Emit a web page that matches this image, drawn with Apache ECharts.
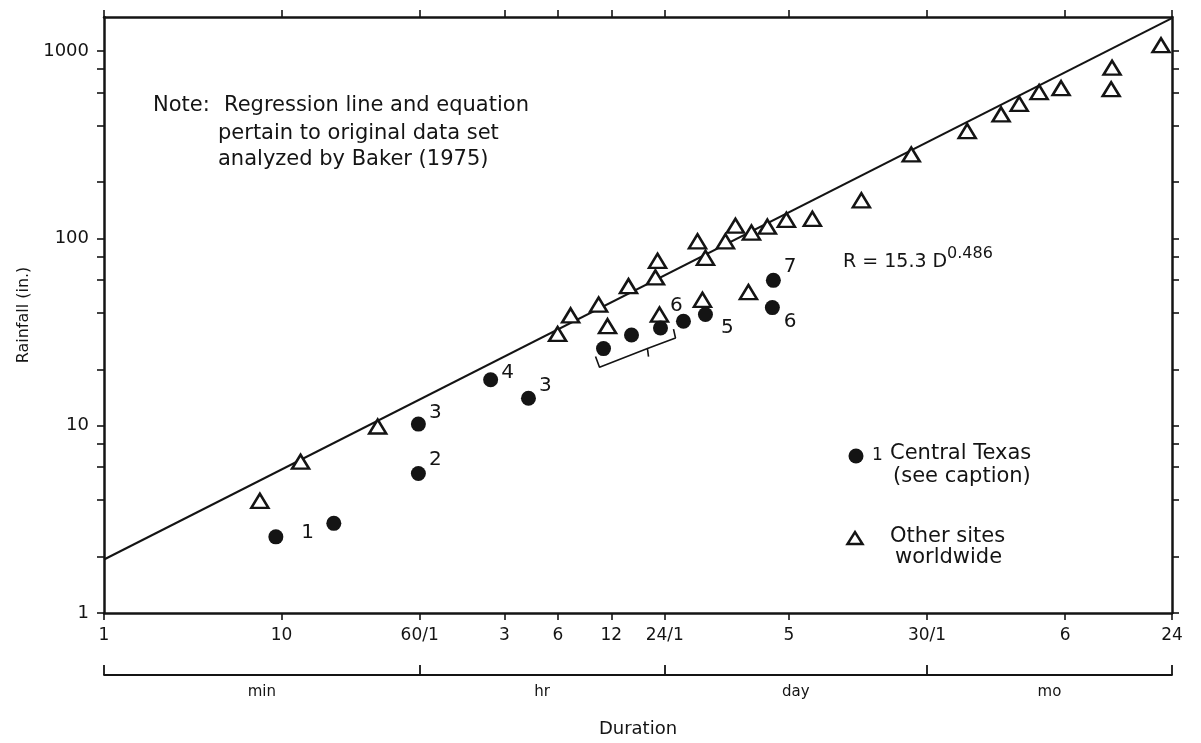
<!DOCTYPE html>
<html><head><meta charset="utf-8">
<script src="https://cdn.jsdelivr.net/npm/echarts@6/dist/echarts.min.js"></script>
<style>html,body{margin:0;padding:0;background:#fff}#c{width:1201px;height:743px}</style>
</head><body><div id="c"></div>
<script>
// ---------- data ----------
// Duration in minutes; rainfall in inches
const xTickValues = [1, 10, 60, 180, 360, 720, 1440, 7200, 43200, 259200, 1036800];
const xTickLabels = ['1', '10', '60/1', '3', '6', '12', '24/1', '5', '30/1', '6', '24'];
const yTickValues = [1, 2, 4, 6, 8, 10, 20, 40, 60, 80, 100, 200, 400, 600, 800, 1000];
const yLabelValues = [1, 10, 100, 1000];
const unitBounds = [1, 60, 1440, 43200, 1036800];
const unitNames = ['min', 'hr', 'day', 'mo'];

const otherDuration = [7.55, 12.8, 34.8, 359, 425, 611, 686, 900, 1277, 1312, 1345, 2203, 2443, 2349, 3164, 3603, 4434, 5453, 6978, 9772, 4265, 18450, 35240, 72800, 113000, 142900, 185000, 246000, 476500, 471000, 899000];
const otherRain = [3.97, 6.42, 9.9, 30.9, 38.8, 44.3, 34.0, 55.6, 61.9, 75.9, 39.2, 96.5, 78.7, 47.0, 96.5, 116.9, 107.4, 115.5, 125.6, 127.1, 51.7, 159.7, 280.5, 374, 459, 523, 604, 634, 815, 626, 1075];

const texasDuration = [9.29, 19.7, 59, 59, 150.6, 246, 651, 936, 1363, 1836, 2442, 5893, 5816];
const texasRain = [2.55, 3.01, 5.56, 10.2, 17.6, 14.0, 25.8, 30.5, 33.2, 36.1, 39.2, 59.7, 42.7];
const texasLabels = ['1', '', '2', '3', '4', '3', '', '', '6', '', '5', '7', '6'];

const regressionDuration = [1, 1036800];
const regressionRain = [1.93, 1500];

const bracketDuration = [587, 618, 1151, 1167, 1151, 1656, 1614];
const bracketRain = [23.4, 20.5, 25.8, 23.4, 25.8, 29.4, 32.8];
const bracketLabel = '5';

// ---------- styles ----------
const FONT = 'DejaVu Sans';
const INK = '#141414';
const labelOffsets = [[16, -4], [0, 0], [1, -14], [1, -11], [1, -7], [1, -13], [0, 0], [0, 0], [0, -22], [0, 0], [6, 13], [1, -14], [2, 14]];

function pickLabel(v, values, labels) {
  let best = 0, bd = Infinity;
  values.forEach((t, i) => { const d = Math.abs(Math.log10(t) - Math.log10(v)); if (d < bd) { bd = d; best = i; } });
  return bd < 0.02 ? labels[best] : '';
}
const unitMids = unitNames.map((_, i) => Math.sqrt(unitBounds[i] * unitBounds[i + 1]));

const xMin = xTickValues[0], xMax = xTickValues[xTickValues.length - 1];
const yMin = 1, yMax = 1520;

const axisLine = { show: true, lineStyle: { color: INK, width: 2.5 } };
function xAxisBase(extra) {
  return Object.assign({
    type: 'log', min: xMin, max: xMax, logBase: 10,
    axisLine: axisLine,
    axisTick: { show: true, customValues: xTickValues, length: 7, lineStyle: { color: INK, width: 1.6 } },
    axisLabel: { show: false },
    splitLine: { show: false }, minorTick: { show: false }, minorSplitLine: { show: false }
  }, extra);
}
function yAxisBase(extra) {
  return Object.assign({
    type: 'log', min: yMin, max: yMax, logBase: 10,
    axisLine: axisLine,
    axisTick: { show: true, customValues: yTickValues, length: 7, lineStyle: { color: INK, width: 1.6 } },
    axisLabel: { show: false },
    splitLine: { show: false }, minorTick: { show: false }, minorSplitLine: { show: false }
  }, extra);
}

const chart = echarts.init(document.getElementById('c'), null, { renderer: 'canvas' });
chart.setOption({
  backgroundColor: '#fff',
  animation: false,
  textStyle: { fontFamily: FONT, color: INK },
  grid: { left: 104, right: 29, top: 17, bottom: 116, containLabel: false },
  xAxis: [
    xAxisBase({
      position: 'bottom',
      axisLabel: { show: true, customValues: xTickValues, fontSize: 17, color: INK, fontFamily: FONT, margin: 14,
        formatter: v => pickLabel(v, xTickValues, xTickLabels) }
    }),
    xAxisBase({ position: 'top' }),
    xAxisBase({
      position: 'bottom', offset: 62,
      axisLine: { show: true, lineStyle: { color: INK, width: 1.8 } },
      axisTick: { show: true, inside: true, customValues: unitBounds, length: 10, lineStyle: { color: INK, width: 1.8 } },
      axisLabel: { show: true, customValues: unitMids, fontSize: 15, color: INK, fontFamily: FONT, margin: 10,
        formatter: v => pickLabel(v, unitMids, unitNames) },
      name: 'Duration', nameLocation: 'middle', nameGap: 45,
      nameTextStyle: { fontSize: 18, color: INK, fontFamily: FONT }
    })
  ],
  yAxis: [
    yAxisBase({
      position: 'left',
      axisLabel: { show: true, customValues: yLabelValues, fontSize: 18, color: INK, fontFamily: FONT, margin: 15,
        formatter: v => pickLabel(v, yLabelValues, yLabelValues.map(String)) },
      name: 'Rainfall (in.)', nameLocation: 'middle', nameGap: 62, nameRotate: 90,
      nameTextStyle: { fontSize: 16, color: INK, fontFamily: FONT }
    }),
    yAxisBase({ position: 'right' })
  ],
  series: [
    {
      name: 'Regression', type: 'line', xAxisIndex: 0, yAxisIndex: 0,
      data: regressionDuration.map((d, i) => [d, regressionRain[i]]),
      symbol: 'none', lineStyle: { color: INK, width: 2 }, z: 2, silent: true
    },
    {
      name: 'Other sites worldwide', type: 'scatter',
      data: otherDuration.map((d, i) => [d, otherRain[i]]),
      symbol: 'triangle', symbolSize: [17, 14],
      itemStyle: { color: '#fff', borderColor: INK, borderWidth: 2.5, opacity: 1 }, z: 4
    },
    {
      name: 'Central Texas', type: 'scatter',
      data: texasDuration.map((d, i) => ({
        value: [d, texasRain[i]],
        label: { show: texasLabels[i] !== '', formatter: texasLabels[i], position: 'right',
          distance: 2, offset: labelOffsets[i], fontSize: 20, color: INK, fontFamily: FONT }
      })),
      symbol: 'circle', symbolSize: 15,
      itemStyle: { color: INK, opacity: 1 }, z: 5
    },
    {
      name: 'Bracket', type: 'line',
      data: bracketDuration.map((d, i) => [d, bracketRain[i]]),
      symbol: 'none', lineStyle: { color: INK, width: 1.6 }, z: 3, silent: true
    },
    {
      name: 'BracketLabel', type: 'scatter',
      data: [{ value: [bracketDuration[3], bracketRain[3]],
        label: { show: true, formatter: bracketLabel, position: 'bottom', distance: 2, offset: [6, 0],
          fontSize: 20, color: INK, fontFamily: FONT } }],
      symbolSize: 1, itemStyle: { opacity: 0 }, z: 5, silent: true
    }
  ],
  graphic: [
    { type: 'text', left: 153, top: 95, style: { text: 'Note:', font: '21px "DejaVu Sans"', fill: INK } },
    { type: 'text', left: 224, top: 95, style: { text: 'Regression line and equation', font: '21px "DejaVu Sans"', fill: INK } },
    { type: 'text', left: 218, top: 121, style: { text: 'pertain to original data set\nanalyzed by Baker (1975)', font: '21px "DejaVu Sans"', lineHeight: 26, fill: INK } },
    { type: 'text', left: 843, top: 253, style: { text: 'R = 15.3 D', font: '19px "DejaVu Sans"', fill: INK } },
    { type: 'text', left: 947, top: 246, style: { text: '0.486', font: '16px "DejaVu Sans"', fill: INK } },
    { type: 'circle', shape: { cx: 856, cy: 456, r: 7.5 }, style: { fill: INK } },
    { type: 'text', left: 872, top: 447, style: { text: '1', font: '17px "DejaVu Sans"', fill: INK } },
    { type: 'text', left: 890, top: 443, style: { text: 'Central Texas', font: '21px "DejaVu Sans"', fill: INK } },
    { type: 'text', left: 893, top: 466, style: { text: '(see caption)', font: '21px "DejaVu Sans"', fill: INK } },
    { type: 'polygon', shape: { points: [[847.5, 544], [862.5, 544], [855, 532]] }, style: { fill: '#fff', stroke: INK, lineWidth: 2.5 } },
    { type: 'text', left: 890, top: 526, style: { text: 'Other sites', font: '21px "DejaVu Sans"', fill: INK } },
    { type: 'text', left: 895, top: 547, style: { text: 'worldwide', font: '21px "DejaVu Sans"', fill: INK } }
  ]
});
</script>
</body></html>
